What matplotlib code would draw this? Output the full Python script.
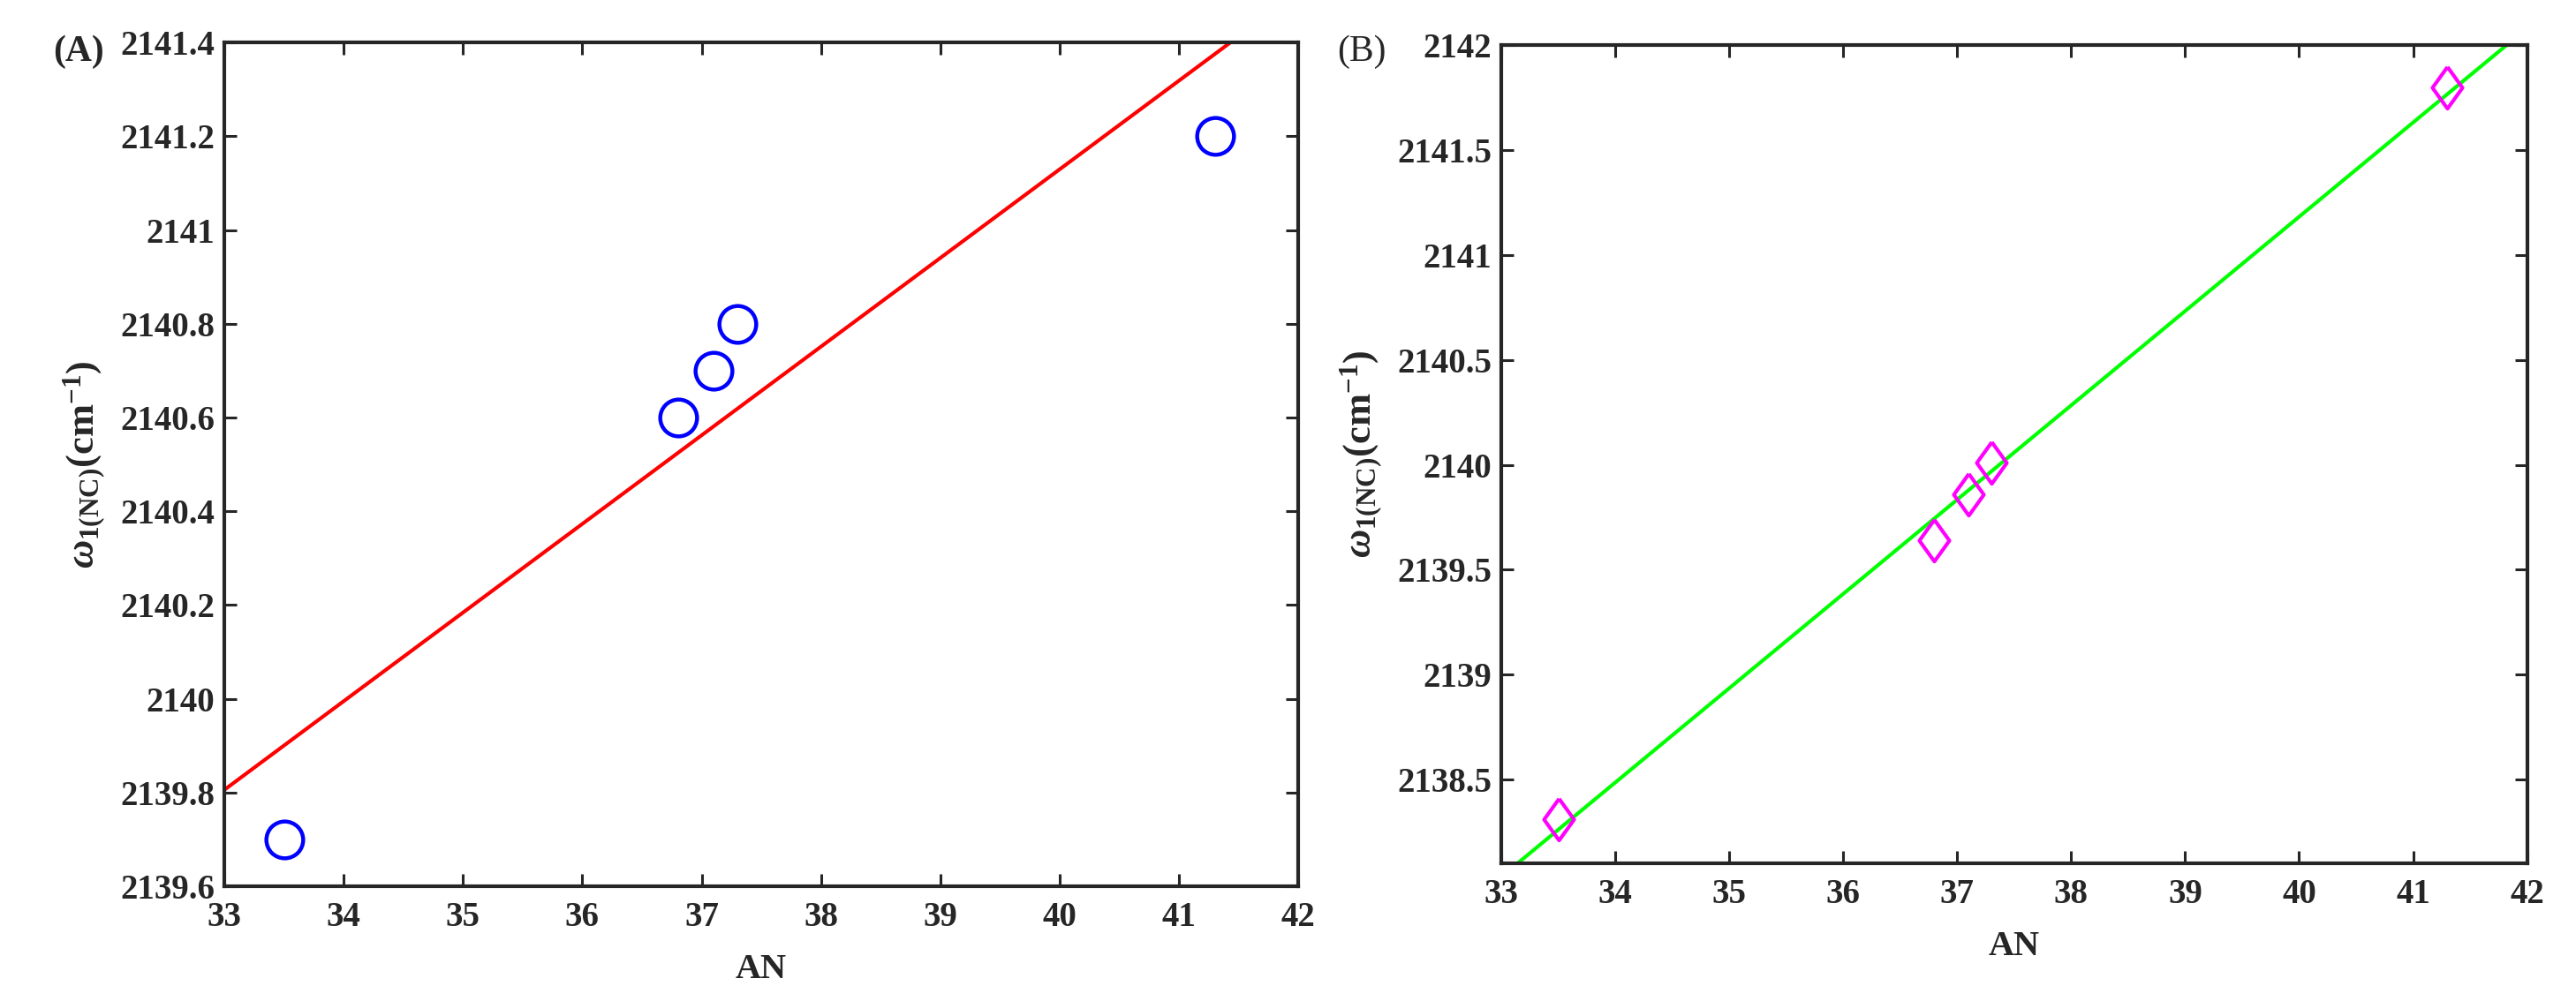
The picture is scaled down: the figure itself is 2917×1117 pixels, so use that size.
import numpy as np
import matplotlib
matplotlib.use('Agg')
import matplotlib.pyplot as plt
from matplotlib.ticker import FuncFormatter

# data
an_values = [33.5, 36.8, 37.1, 37.3, 41.3]
omega_a = [2139.7, 2140.6, 2140.7, 2140.8, 2141.2]
omega_b = [2138.31, 2139.64, 2139.86, 2140.01, 2141.80]

xlim = (33, 42)
ylim_a = (2139.6, 2141.4)
ylim_b = (2138.1, 2142.0)
xticks = np.arange(33, 43, 1)
yticks_a = np.arange(2139.6, 2141.41, 0.2)
yticks_b = np.arange(2138.5, 2142.01, 0.5)

plt.rcParams['font.family'] = 'Liberation Serif'
plt.rcParams['font.weight'] = 'bold'
plt.rcParams['mathtext.fontset'] = 'custom'
plt.rcParams['mathtext.rm'] = 'Liberation Serif'
plt.rcParams['mathtext.it'] = 'Liberation Serif:italic'
plt.rcParams['mathtext.bf'] = 'Liberation Serif:bold'

axcol = '#262626'
ylabel = r'$\omega_{\mathrm{1(NC)}}\mathbf{(cm^{-1})}$'


def gfmt(v, pos):
    return '%g' % round(v, 2)


def style(ax, yticks, ylim):
    ax.set_xlim(*xlim)
    ax.set_ylim(*ylim)
    ax.set_xticks(xticks)
    ax.set_yticks(yticks)
    ax.xaxis.set_major_formatter(FuncFormatter(gfmt))
    ax.yaxis.set_major_formatter(FuncFormatter(gfmt))
    ax.tick_params(direction='in', top=True, right=True, length=10,
                   width=2.2, colors=axcol, labelsize=28, pad=8)
    ax.tick_params(axis='x', pad=12)
    for s in ax.spines.values():
        s.set_linewidth(3)
        s.set_color(axcol)
    ax.set_xlabel('AN', fontsize=29, fontweight='bold', color=axcol,
                  labelpad=16)
    ax.set_ylabel(ylabel, fontsize=32, color=axcol, labelpad=10)


fig = plt.figure(figsize=(29.17, 11.17), dpi=100)

# panel A
ax1 = fig.add_axes([0.0871, 0.101, 0.4169, 0.856])
p = np.polyfit(an_values, omega_a, 1)
xl = np.linspace(xlim[0], xlim[1], 200)
ax1.plot(xl, np.polyval(p, xl), color='red', lw=3)
ax1.plot(an_values, omega_a, 'o', ms=30, mfc='none', mec='blue', mew=3.2)
style(ax1, yticks_a, ylim_a)
fig.text(0.0206, 0.947, '(A)', fontsize=30, fontweight='bold',
         ha='left', va='center', color=axcol)

# panel B
ax2 = fig.add_axes([0.5828, 0.1244, 0.3982, 0.8296])
p = np.polyfit(an_values, omega_b, 1)
ax2.plot(xl, np.polyval(p, xl), color=(0, 1, 0), lw=3)
diamond = [(0, 1), (0.72, 0), (0, -1), (-0.72, 0), (0, 1)]
ax2.plot(an_values, omega_b, linestyle='none', marker=diamond, ms=34,
         mfc='none', mec='magenta', mew=3)
style(ax2, yticks_b, ylim_b)
fig.text(0.519, 0.947, '(B)', fontsize=30, fontweight='normal',
         ha='left', va='center', color=axcol)

fig.savefig('out.png', dpi=100)
